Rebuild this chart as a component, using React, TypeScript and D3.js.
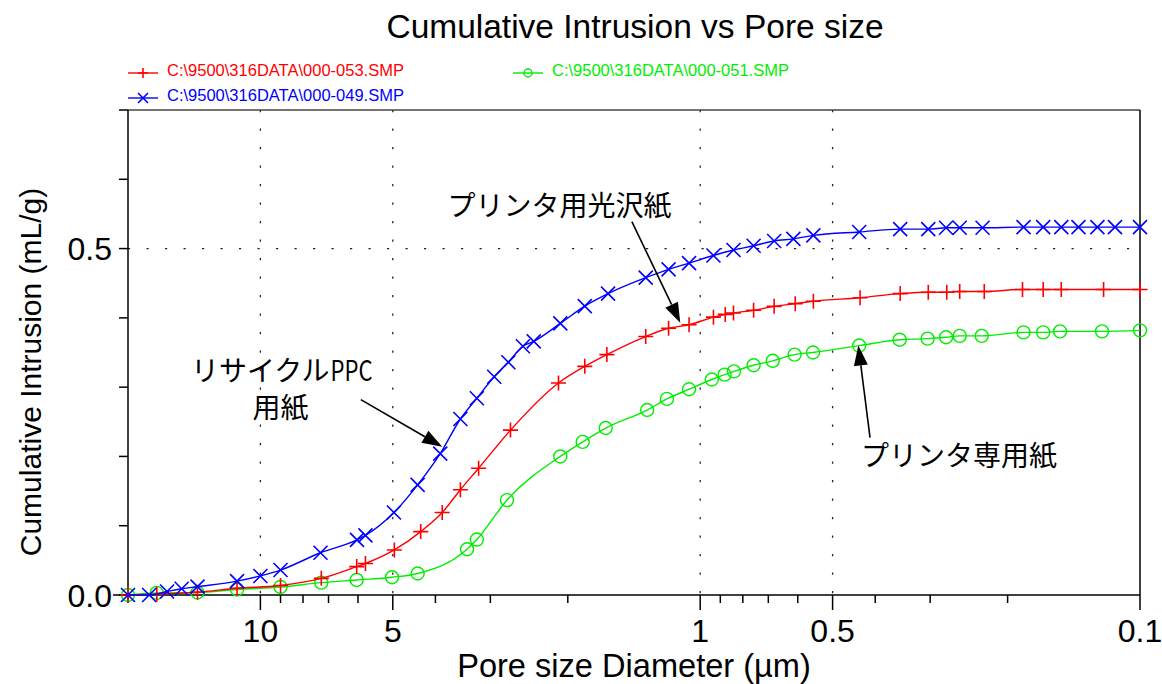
import React, { useEffect, useRef } from "react";
import * as d3 from "d3";

const chartTitle = "Cumulative Intrusion vs Pore size";
const xLabel = "Pore size Diameter (µm)";
const yLabel = "Cumulative Intrusion (mL/g)";

// 000-053 (red, +)
const redName = "C:\\9500\\316DATA\\000-053.SMP";
const redDiameter = [20, 17.2, 13.9, 11.3, 9.0, 7.27, 6.04, 5.77, 4.96, 4.32, 3.86, 3.51, 3.19, 2.7, 2.1, 1.83, 1.63, 1.33, 1.18, 1.06, 0.933, 0.877, 0.84, 0.756, 0.679, 0.608, 0.553, 0.433, 0.351, 0.303, 0.275, 0.257, 0.226, 0.185, 0.166, 0.151, 0.121, 0.1];
const redIntrusion = [0, 0.001, 0.004, 0.0097, 0.0137, 0.024, 0.041, 0.0455, 0.065, 0.0915, 0.119, 0.152, 0.183, 0.238, 0.306, 0.33, 0.347, 0.373, 0.385, 0.39, 0.401, 0.405, 0.407, 0.411, 0.4166, 0.4205, 0.424, 0.429, 0.435, 0.437, 0.437, 0.438, 0.438, 0.441, 0.441, 0.441, 0.441, 0.441];

// 000-049 (blue, x)
const blueName = "C:\\9500\\316DATA\\000-049.SMP";
const blueDiameter = [20, 17.9, 16.3, 15.1, 13.9, 11.3, 10.0, 9.0, 7.3, 6.03, 5.77, 4.97, 4.39, 3.9, 3.51, 3.22, 2.94, 2.73, 2.53, 2.39, 2.08, 1.83, 1.62, 1.33, 1.18, 1.06, 0.933, 0.84, 0.756, 0.679, 0.614, 0.553, 0.435, 0.351, 0.303, 0.276, 0.257, 0.228, 0.184, 0.166, 0.151, 0.138, 0.125, 0.114, 0.1];
const blueIntrusion = [0, 0, 0.005, 0.009, 0.012, 0.02, 0.0275, 0.036, 0.061, 0.0795, 0.086, 0.119, 0.159, 0.204, 0.254, 0.284, 0.315, 0.336, 0.359, 0.366, 0.392, 0.417, 0.435, 0.458, 0.47, 0.479, 0.49, 0.498, 0.504, 0.511, 0.514, 0.519, 0.524, 0.528, 0.528, 0.53, 0.53, 0.53, 0.531, 0.531, 0.531, 0.531, 0.531, 0.531, 0.531];

// 000-051 (green, o)
const greenName = "C:\\9500\\316DATA\\000-051.SMP";
const greenDiameter = [20, 17.2, 13.9, 11.3, 9.0, 7.27, 6.04, 5.02, 4.39, 3.39, 3.22, 2.75, 2.08, 1.85, 1.64, 1.32, 1.19, 1.06, 0.941, 0.88, 0.838, 0.756, 0.684, 0.61, 0.554, 0.435, 0.352, 0.304, 0.276, 0.257, 0.229, 0.184, 0.166, 0.152, 0.122, 0.1];
const greenIntrusion = [0, 0.003, 0.0036, 0.008, 0.0116, 0.0178, 0.0217, 0.0256, 0.031, 0.066, 0.08, 0.137, 0.2, 0.221, 0.241, 0.267, 0.283, 0.297, 0.311, 0.318, 0.3227, 0.3316, 0.338, 0.347, 0.35, 0.36, 0.3685, 0.37, 0.372, 0.374, 0.374, 0.379, 0.379, 0.3805, 0.3805, 0.382];

const xMajorTicks = [10, 5, 1, 0.5, 0.1];
const xTickLabels = ["10", "5", "1", "0.5", "0.1"];
const xMinorTicks = [20, 9, 8, 7, 6, 4, 3, 2, 0.9, 0.8, 0.7, 0.6, 0.4, 0.3, 0.2];
const yTicks = [0, 0.1, 0.2, 0.3, 0.4, 0.5, 0.6, 0.7];
const yTickLabels = ["0.0", "0.5"];
const yLabelTicks = [0, 0.5];
const xGrid = [10, 5, 1, 0.5];
const yGrid = [0.5];

const App = () => {
  const ref = useRef<SVGSVGElement | null>(null);

  useEffect(() => {
    document.body.style.margin = "0";
    const svg = d3.select(ref.current);
    svg.selectAll("*").remove();

    const left = 128, right = 1140, top = 110, bottom = 595;
    const x = d3.scaleLog().domain([20, 0.1]).range([left, right]);
    const y = d3.scaleLinear().domain([0, 0.7]).range([bottom, top]);
    const font = "'Liberation Sans', Arial, sans-serif";
    const jp = "'Noto Sans CJK JP', 'Noto Sans CJK SC', sans-serif";

    // dotted grid
    const grid = svg.append("g").attr("stroke", "#222").attr("stroke-width", 1.3).attr("stroke-dasharray", "2.2,16.3");
    xGrid.forEach((v) => grid.append("line").attr("x1", x(v)).attr("x2", x(v)).attr("y1", top).attr("y2", bottom));
    yGrid.forEach((v) => grid.append("line").attr("x1", left).attr("x2", right).attr("y1", y(v)).attr("y2", y(v)));

    // frame
    svg.append("line").attr("x1", left).attr("x2", right).attr("y1", top).attr("y2", top).attr("stroke", "#444").attr("stroke-width", 1.4);
    const frame = svg.append("g").attr("stroke", "#000").attr("stroke-width", 1.5);
    frame.append("line").attr("x1", left).attr("x2", left).attr("y1", top).attr("y2", bottom);
    frame.append("line").attr("x1", right).attr("x2", right).attr("y1", top).attr("y2", bottom);
    frame.append("line").attr("x1", left - 15).attr("x2", right).attr("y1", bottom).attr("y2", bottom);

    // ticks
    xMajorTicks.forEach((v) => frame.append("line").attr("x1", x(v)).attr("x2", x(v)).attr("y1", bottom).attr("y2", bottom + 15));
    xMinorTicks.forEach((v) => frame.append("line").attr("x1", x(v)).attr("x2", x(v)).attr("y1", bottom).attr("y2", bottom + 8));
    yTicks.forEach((v) => frame.append("line").attr("x1", left - 9).attr("x2", left).attr("y1", y(v)).attr("y2", y(v)));

    // tick labels
    xMajorTicks.forEach((v, i) =>
      svg.append("text").attr("x", x(v)).attr("y", 642).attr("text-anchor", "middle")
        .style("font-family", font).style("font-size", "32px").text(xTickLabels[i])
    );
    yLabelTicks.forEach((v, i) =>
      svg.append("text").attr("x", 112).attr("y", y(v) + 11.5).attr("text-anchor", "end")
        .style("font-family", font).style("font-size", "32px").text(yTickLabels[i])
    );

    // titles
    svg.append("text").attr("x", 635).attr("y", 38).attr("text-anchor", "middle")
      .style("font-family", font).style("font-size", "33.5px").text(chartTitle);
    svg.append("text").attr("x", 634).attr("y", 677).attr("text-anchor", "middle")
      .style("font-family", font).style("font-size", "32.6px").text(xLabel);
    svg.append("text").attr("transform", "translate(41,372) rotate(-90)").attr("text-anchor", "middle")
      .style("font-family", font).style("font-size", "30px").text(yLabel);

    // marker drawers
    const plus = (g: any, cx: number, cy: number, s: number, c: string) => {
      g.append("path").attr("d", `M${cx - s},${cy}H${cx + s}M${cx},${cy - s}V${cy + s}`)
        .attr("stroke", c).attr("stroke-width", 1.6).attr("fill", "none");
    };
    const cross = (g: any, cx: number, cy: number, s: number, c: string) => {
      g.append("path").attr("d", `M${cx - s},${cy - s}L${cx + s},${cy + s}M${cx - s},${cy + s}L${cx + s},${cy - s}`)
        .attr("stroke", c).attr("stroke-width", 1.6).attr("fill", "none");
    };
    const circle = (g: any, cx: number, cy: number, s: number, c: string) => {
      g.append("circle").attr("cx", cx).attr("cy", cy).attr("r", s)
        .attr("stroke", c).attr("stroke-width", 1.4).attr("fill", "none");
    };

    const series = [
      { name: redName, xs: redDiameter, ys: redIntrusion, color: "#ff0000", marker: plus, size: 7.5, lx: 128, ly: 73 },
      { name: blueName, xs: blueDiameter, ys: blueIntrusion, color: "#0000ff", marker: cross, size: 7, lx: 128, ly: 98 },
      { name: greenName, xs: greenDiameter, ys: greenIntrusion, color: "#00ee00", marker: circle, size: 6.5, lx: 513, ly: 73 },
    ];

    const line = d3.line<[number, number]>()
      .x((d) => x(d[0]))
      .y((d) => y(d[1]))
      .curve(d3.curveMonotoneX);

    const plot = svg.append("g");
    // draw green first, then red, then blue on top
    [series[2], series[0], series[1]].forEach((s) => {
      const pts = s.xs.map((v, i) => [v, s.ys[i]] as [number, number]);
      plot.append("path").attr("d", line(pts)).attr("fill", "none").attr("stroke", s.color).attr("stroke-width", 1.4);
      pts.forEach((p) => s.marker(plot, x(p[0]), y(p[1]), s.size, s.color));
    });

    // legend
    series.forEach((s) => {
      const g = svg.append("g");
      g.append("line").attr("x1", s.lx).attr("x2", s.lx + 30).attr("y1", s.ly).attr("y2", s.ly)
        .attr("stroke", s.color).attr("stroke-width", 1.4);
      s.marker(g, s.lx + 15, s.ly, s.marker === circle ? 4 : 5, s.color);
      g.append("text").attr("x", s.lx + 39).attr("y", s.ly - 3).attr("dominant-baseline", "central")
        .style("font-family", font).style("font-size", "16.5px").attr("fill", s.color).text(s.name);
    });

    // annotations (positions in data space)
    const arrow = (x0: number, y0: number, x1: number, y1: number) => {
      const ax = x(x0), ay = y(y0), bx = x(x1), by = y(y1);
      const len = Math.hypot(bx - ax, by - ay);
      const ux = (bx - ax) / len, uy = (by - ay) / len;
      const hl = 20, hw = 7;
      const baseX = bx - ux * hl, baseY = by - uy * hl;
      svg.append("line").attr("x1", ax).attr("y1", ay).attr("x2", baseX).attr("y2", baseY)
        .attr("stroke", "#000").attr("stroke-width", 1.6);
      svg.append("path")
        .attr("d", `M${bx},${by}L${baseX - uy * hw},${baseY + ux * hw}L${baseX + uy * hw},${baseY - ux * hw}Z`)
        .attr("fill", "#000");
    };
    const label = (t: string, cx: number, cy: number) =>
      svg.append("text").attr("x", x(cx)).attr("y", y(cy)).attr("text-anchor", "middle").attr("dominant-baseline", "central")
        .style("font-family", jp).style("font-size", "28px").attr("fill", "#000").text(t);

    label("プリンタ用光沢紙", 2.09, 0.565);
    arrow(1.43, 0.539, 1.11, 0.393);

    // リサイクルPPC / 用紙
    const px = x(9.0), py = y(0.326);
    svg.append("text").attr("x", px + 49).attr("y", py).attr("text-anchor", "end").attr("dominant-baseline", "central")
      .style("font-family", jp).style("font-size", "28px").text("リサイクル");
    svg.append("text").attr("x", px + 50).attr("y", py).attr("dominant-baseline", "central")
      .attr("textLength", 42).attr("lengthAdjust", "spacingAndGlyphs")
      .style("font-family", jp).style("font-size", "28px").text("PPC");
    label("用紙", 9.0, 0.273);
    arrow(5.91, 0.282, 3.86, 0.214);

    label("プリンタ専用紙", 0.258, 0.204);
    arrow(0.411, 0.227, 0.437, 0.36);
  }, []);

  return <svg ref={ref} width={1162} height={684} style={{ display: "block", background: "#fff" }} />;
};

export default App;
